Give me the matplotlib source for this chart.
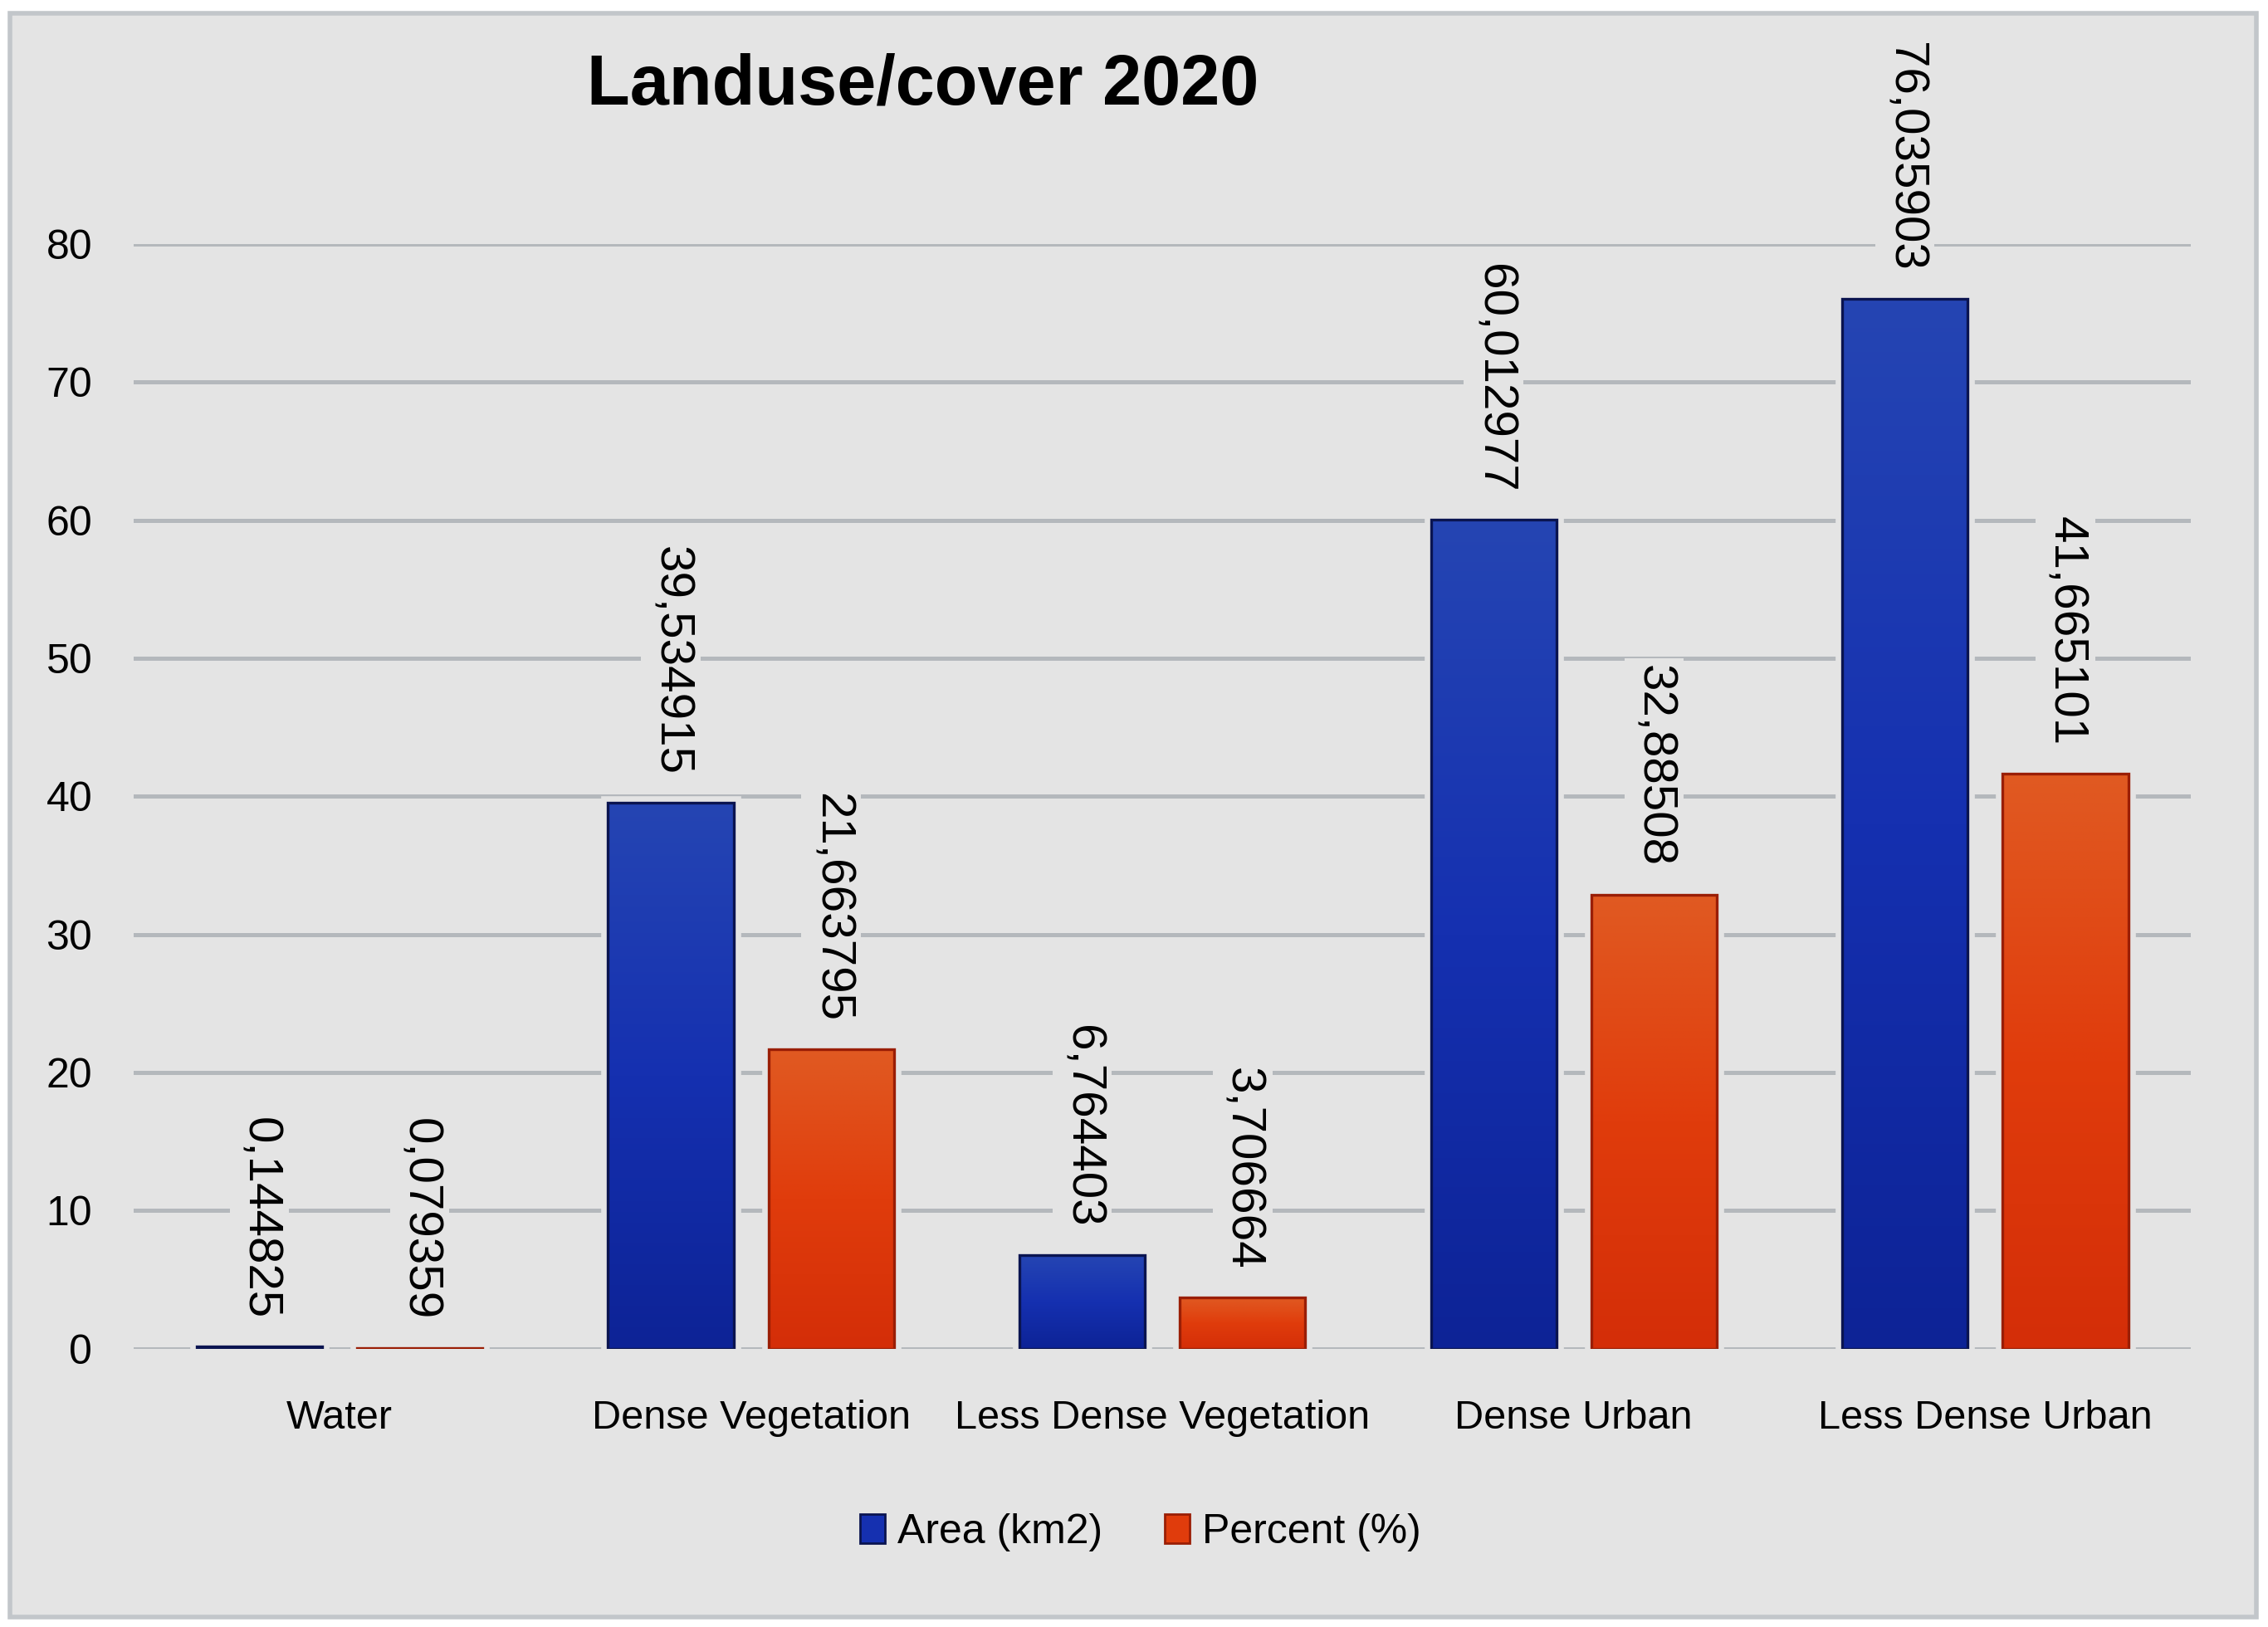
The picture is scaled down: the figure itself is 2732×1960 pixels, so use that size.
import numpy as np
import matplotlib
matplotlib.use('Agg')
import matplotlib.pyplot as plt
from matplotlib.patches import Rectangle
from matplotlib.colors import LinearSegmentedColormap

plt.rcParams['font.family'] = ['Liberation Sans', 'DejaVu Sans']

categories = ['Water', 'Dense Vegetation', 'Less Dense Vegetation', 'Dense Urban', 'Less Dense Urban']
area = [0.144825, 39.534915, 6.764403, 60.012977, 76.035903]
percent = [0.079359, 21.663795, 3.706664, 32.88508, 41.665101]
area_labels = ['0,144825', '39,534915', '6,764403', '60,012977', '76,035903']
percent_labels = ['0,079359', '21,663795', '3,706664', '32,88508', '41,665101']
series_names = ['Area (km2)', 'Percent (%)']
yticks = [0, 10, 20, 30, 40, 50, 60, 70, 80]

bg = '#e4e4e4'
blue_cmap = LinearSegmentedColormap.from_list('b', ['#0d2396', '#1530b0', '#2545b3'])
red_cmap = LinearSegmentedColormap.from_list('r', ['#d42e08', '#e03c0c', '#e05a22'])

fig = plt.figure(figsize=(13.66, 9.8), dpi=200, facecolor='white')
fig.patches.append(Rectangle((0.0044, 0.006), 0.9906, 0.986, transform=fig.transFigure,
                             facecolor=bg, edgecolor='#c2c6ca', linewidth=2, zorder=-10))

ax = fig.add_axes([0.059, 0.171, 0.907, 0.679])
ax.set_facecolor(bg)
ax.patch.set_alpha(0)

x = np.arange(len(categories))
w = 0.305
off = 0.195

grad = np.linspace(0, 1, 256).reshape(-1, 1)

def draw_bars(xs, vals, cmap, edge, labels):
    # halo in background colour breaks the gridlines around the bars
    ax.bar(xs, vals, w, color=bg, edgecolor=bg, linewidth=6, zorder=2)
    bars = ax.bar(xs, vals, w, color='none', edgecolor=edge, linewidth=1.2, zorder=4)
    for b in bars:
        bx, by = b.get_x(), b.get_y()
        bw, bh = b.get_width(), b.get_height()
        ax.imshow(grad, cmap=cmap, aspect='auto', origin='lower',
                  extent=[bx, bx + bw, by, by + bh], zorder=3)
    for xi, v, lab in zip(xs, vals, labels):
        ax.annotate(lab, (xi, v), xytext=(0, 12), textcoords='offset points',
                    rotation=270, ha='center', va='bottom', fontsize=21,
                    zorder=5, annotation_clip=False,
                    bbox=dict(boxstyle='square,pad=0.15', facecolor=bg, edgecolor='none'))
    return bars

draw_bars(x - off, area, blue_cmap, '#0a1450', area_labels)
draw_bars(x + off, percent, red_cmap, '#9a1e05', percent_labels)

ax.set_xlim(-0.5, 4.5)
ax.set_ylim(0, 80)
ax.set_yticks(yticks)
ax.set_xticks(x)
ax.set_xticklabels(categories, fontsize=17.5)
ax.tick_params(axis='y', length=0, pad=18, labelsize=18)
ax.tick_params(axis='x', length=0, pad=22)
ax.yaxis.grid(True, color='#b4b8bc', linewidth=1.8, zorder=1)
ax.set_axisbelow(True)
for s in ax.spines.values():
    s.set_visible(False)

fig.text(0.407, 0.947, 'Landuse/cover 2020', fontsize=30.5, fontweight='bold',
         ha='center', va='center')

handles = [Rectangle((0, 0), 1, 1, facecolor='#1530b0', edgecolor='#0a1450'),
           Rectangle((0, 0), 1, 1, facecolor='#e03c0c', edgecolor='#9a1e05')]
fig.legend(handles, series_names, loc='center', bbox_to_anchor=(0.503, 0.058), ncol=2,
           frameon=False, fontsize=18, handlelength=0.6, handleheight=0.7,
           handletextpad=0.3, columnspacing=1.5)

fig.savefig('out.png', dpi=200, facecolor='white')
